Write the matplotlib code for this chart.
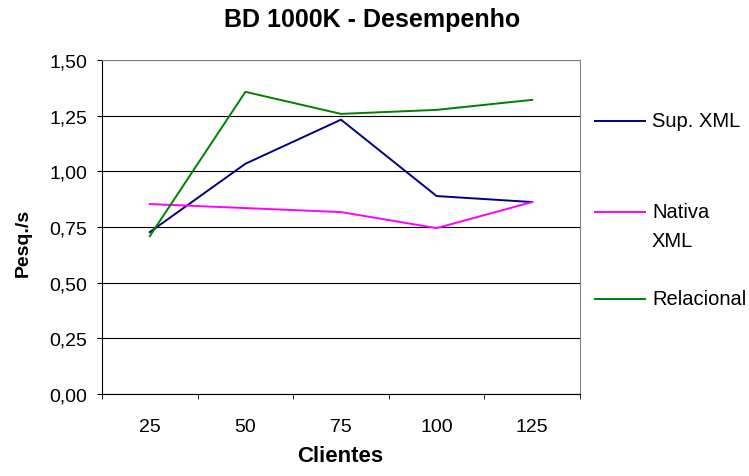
import numpy as np
import matplotlib.pyplot as plt
from matplotlib.lines import Line2D
from matplotlib.ticker import FuncFormatter

plt.rcParams['font.family'] = ['Liberation Sans', 'DejaVu Sans']

#--------------------------------------------------------------------------------------------------
# data
clientes = ['25', '50', '75', '100', '125']
sup_xml = [0.727, 1.034, 1.232, 0.889, 0.862]
nativa_xml = [0.853, 0.835, 0.817, 0.745, 0.862]
relacional = [0.709, 1.357, 1.258, 1.276, 1.321]
yticks = [0.0, 0.25, 0.5, 0.75, 1.0, 1.25, 1.5]

series = [sup_xml, nativa_xml, relacional]
names = ['Sup. XML', 'Nativa\nXML', 'Relacional']
colors = ['#000080', '#ff00ff', '#008000']

#--------------------------------------------------------------------------------------------------
W, H = 749, 477
fig = plt.figure(figsize=(W / 100, H / 100), dpi=100)
ax = fig.add_axes([102 / W, 1 - 395 / H, 478 / W, 334 / H])

x = np.arange(len(clientes))
for vals, name, c in zip(series, names, colors):
    ax.plot(x, vals, color=c, lw=1.4, label=name)

ax.set_xlim(-0.5, len(clientes) - 0.5)
ax.set_ylim(0, 1.5)
ax.set_yticks(yticks)
ax.yaxis.set_major_formatter(FuncFormatter(lambda v, p: ('%.2f' % v).replace('.', ',')))
ax.set_xticks(x)
ax.set_xticklabels(clientes)
# tick marks sit on the category boundaries
ax.set_xticks(np.arange(len(clientes) + 1) - 0.5, minor=True)
ax.tick_params(axis='x', which='major', length=0, pad=17, labelsize=14)
ax.tick_params(axis='x', which='minor', length=3.6, direction='out', color='black')
ax.tick_params(axis='y', length=3.6, direction='out', labelsize=14, pad=7)

ax.grid(axis='y', color='black', lw=0.8)
ax.set_axisbelow(True)
for s in ['top', 'right']:
    ax.spines[s].set_color('#808080')
for s in ['left', 'bottom']:
    ax.spines[s].set_color('black')

fig.text(0.497, 1 - 20 / H, 'BD 1000K - Desempenho', fontsize=18, fontweight='bold',
         ha='center', va='center')
ax.set_xlabel('Clientes', fontsize=16, fontweight='bold', va='center')
ax.xaxis.set_label_coords((340 - 102) / 478, (395 - 457) / 334)
ax.set_ylabel('Pesq./s', fontsize=14, fontweight='bold', va='center')
ax.yaxis.set_label_coords((23 - 102) / 478, (395 - 243) / 334)

#--------------------------------------------------------------------------------------------------
# legend on the right, drawn by hand so the rows sit like in Excel
rows_y = [121.7, 213, 300]
for name, c, yy in zip(names, colors, rows_y):
    fig.add_artist(Line2D([595 / W, 645 / W], [1 - yy / H, 1 - yy / H], color=c, lw=1.4))
    for k, line in enumerate(name.split('\n')):
        fig.text(652 / W, 1 - (yy + 29 * k) / H, line, fontsize=14.5, ha='left', va='center')

fig.savefig('out.png', dpi=100)
